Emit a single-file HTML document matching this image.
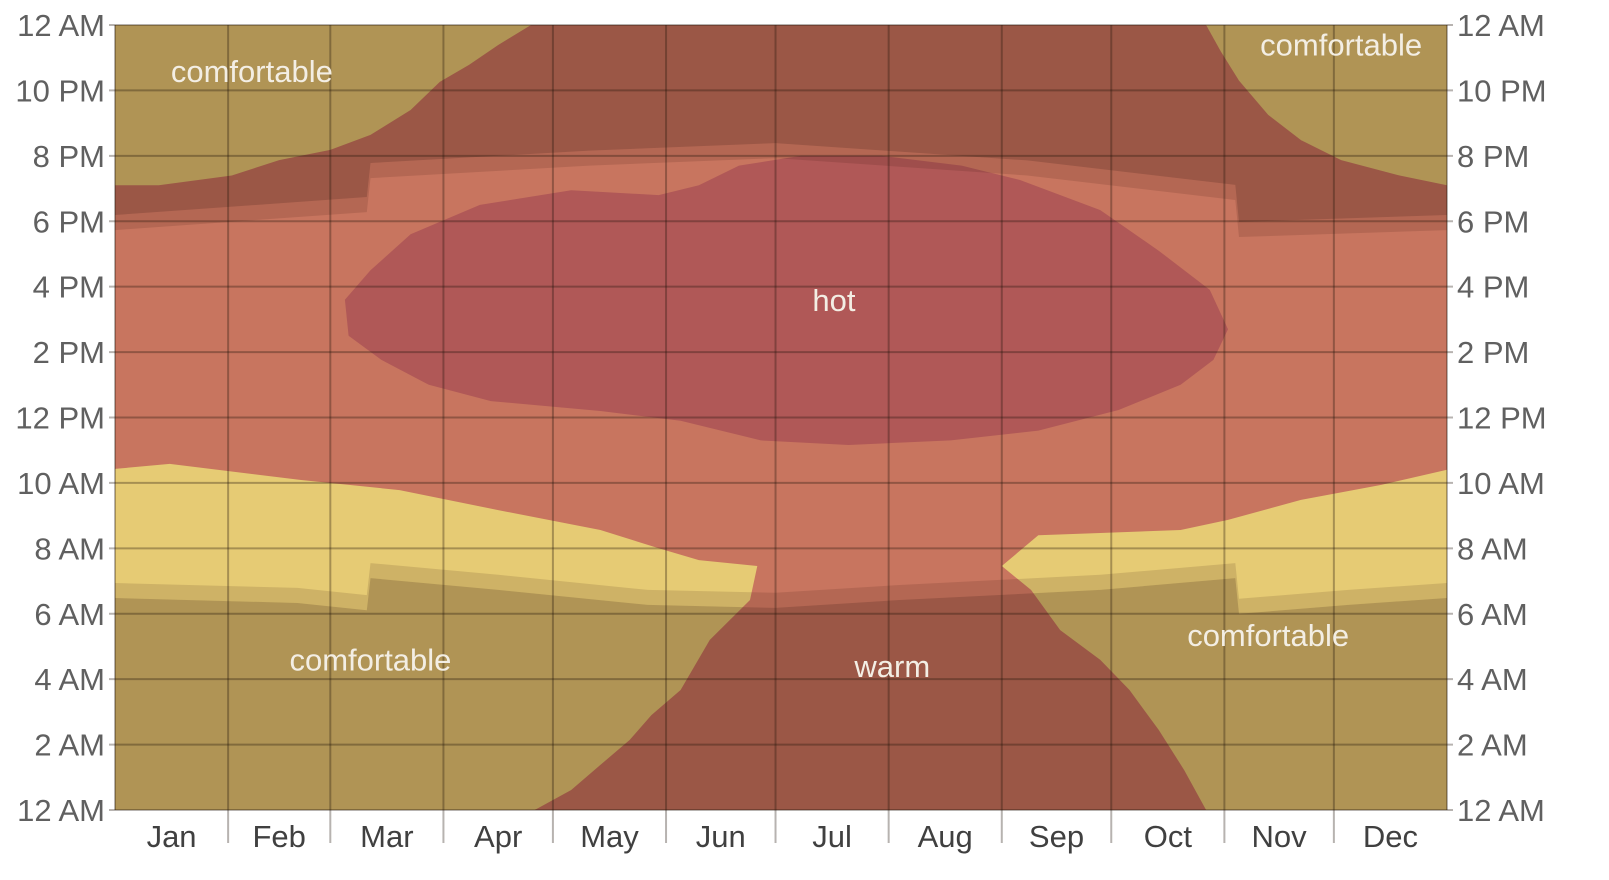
<!DOCTYPE html>
<html><head><meta charset="utf-8">
<style>
html,body{margin:0;padding:0;background:#fff;}
svg{display:block;font-family:"Liberation Sans",Arial,sans-serif;}
</style></head>
<body>
<svg id="chart" width="1609" height="880" viewBox="0 0 1609 880" xmlns="http://www.w3.org/2000/svg"></svg>
<script>
// ---- data (day-of-year, hour-of-day) ----
const monthNames = ["Jan","Feb","Mar","Apr","May","Jun","Jul","Aug","Sep","Oct","Nov","Dec"];
const monthStarts = [0,31,59,90,120,151,181,212,243,273,304,334,365];
const hourTicks = [0,2,4,6,8,10,12,14,16,18,20,22,24];
const hourLabels = ["12 AM","2 AM","4 AM","6 AM","8 AM","10 AM","12 PM","2 PM","4 PM","6 PM","8 PM","10 PM","12 AM"];
const comfortMorningLeft = [[0,0],[0,10.43],[15,10.58],[51,10.09],[78,9.78],[105,9.17],[133,8.56],[149,8.0],[160,7.64],[176,7.46],[174,6.42],[163,5.2],[155,3.67],[147,2.9],[141,2.14],[133,1.38],[125,0.61],[115,0]];
const comfortMorningRight = [[299,0],[293,1.22],[286,2.45],[278,3.67],[270,4.59],[259,5.5],[251,6.73],[243,7.46],[253,8.4],[270,8.47],[292,8.56],[305,8.87],[325,9.48],[347,9.94],[365,10.4],[365,0]];
const comfortEveningLeft = [[0,24],[0,19.1],[12,19.1],[32,19.4],[45,19.87],[59,20.18],[70,20.64],[81,21.4],[89,22.26],[97,22.78],[105,23.39],[114,24]];
const comfortEveningRight = [[299,24],[303,23.2],[308,22.3],[316,21.25],[325,20.48],[336,19.87],[352,19.4],[365,19.1],[365,24]];
const hotRegion = [[63,15.6],[70,16.5],[81,17.6],[100,18.5],[125,18.95],[149,18.8],[160,19.1],[171,19.7],[188,20.0],[210,20.0],[232,19.7],[248,19.26],[270,18.34],[286,17.1],[300,15.9],[305,14.7],[301,13.76],[292,13.0],[275,12.23],[253,11.6],[229,11.3],[201,11.16],[177,11.3],[155,11.9],[133,12.2],[103,12.5],[86,13.0],[73,13.76],[64,14.5]];
const sunriseDays = [0,50,69,70,105,146,181,215,270,307,308,338,365];
const nightEndHours = [6.48,6.33,6.11,7.09,6.73,6.27,6.18,6.42,6.73,7.09,6.0,6.27,6.48];
const sunsetDays = [0,69,70,130,181,250,307,308,365];
const dayEndHours = [17.73,18.28,19.32,19.7,19.93,19.4,18.65,17.52,17.73];
const twilightHours = 0.46;
const regionLabels = [["comfortable",37.5,22.6],["comfortable",336,23.4],["comfortable",70,4.6],["comfortable",316,5.35],["hot",197,15.6],["warm",213,4.4]];

// ---- axes ----
const X0=115,X1=1447,Y0=810,Y1=25;
const xS=d=>X0+d*(X1-X0)/365;
const yS=h=>Y0-h*(Y0-Y1)/24;
const NS="http://www.w3.org/2000/svg";
const svg=document.getElementById('chart');
function mk(tag,attrs){const e=document.createElementNS(NS,tag);for(const k in attrs)e.setAttribute(k,attrs[k]);svg.appendChild(e);return e;}
function poly(pts){return pts.map(p=>xS(p[0]).toFixed(1)+','+yS(p[1]).toFixed(1)).join(' ');}

let e;
e=mk('rect',{x:X0,y:Y1,width:X1-X0,height:Y0-Y1,fill:'#c8755f'});


[[comfortMorningLeft,'comfortable-morning-left'],[comfortMorningRight,'comfortable-morning-right'],[comfortEveningLeft,'comfortable-evening-left'],[comfortEveningRight,'comfortable-evening-right']].forEach(([p,n])=>{
  const el=mk('polygon',{points:poly(p),fill:'#e6cb74'});
  
  
});
e=mk('polygon',{points:poly(hotRegion),fill:'#b05857'});



// night overlays
const mNight=sunriseDays.map((d,i)=>[d,nightEndHours[i]]);
const mDay=sunriseDays.map((d,i)=>[d,nightEndHours[i]+twilightHours]);
const eDay=sunsetDays.map((d,i)=>[d,dayEndHours[i]]);
const eNight=sunsetDays.map((d,i)=>[d,dayEndHours[i]+twilightHours]);
const NIGHT='rgba(45,15,10,0.29)', TW='rgba(45,15,10,0.13)';
e=mk('polygon',{points:poly([[0,0],...mNight,[365,0]]),fill:NIGHT});


e=mk('polygon',{points:poly([...mNight,...mDay.slice().reverse()]),fill:TW});


e=mk('polygon',{points:poly([[0,24],...eNight,[365,24]]),fill:NIGHT});


e=mk('polygon',{points:poly([...eDay,...eNight.slice().reverse()]),fill:TW});



// grid
monthStarts.forEach(d=>{
  const l=mk('line',{x1:xS(d),x2:xS(d),y1:Y1,y2:(d===0||d===365)?Y0:843,stroke:'rgba(30,20,10,0.32)','stroke-width':2});
  
  
});
hourTicks.forEach((h,i)=>{
  const l=mk('line',{x1:X0-6,x2:X1+6,y1:yS(h),y2:yS(h),stroke:'rgba(30,20,10,0.32)','stroke-width':2});
  
  
  const t1=mk('text',{x:105,y:yS(h)+11,'text-anchor':'end','font-size':31,fill:'#606060'});
  t1.textContent=hourLabels[i];
  
  
  const t2=mk('text',{x:1457,y:yS(h)+11,'text-anchor':'start','font-size':31,fill:'#606060'});
  t2.textContent=hourLabels[i];
  
  
});
monthNames.forEach((m,i)=>{
  const t=mk('text',{x:xS((monthStarts[i]+monthStarts[i+1])/2),y:847,'text-anchor':'middle','font-size':31,fill:'#404040'});
  t.textContent=m;
  
  
});
regionLabels.forEach(r=>{
  const t=mk('text',{x:xS(r[1]),y:yS(r[2])+11,'text-anchor':'middle','font-size':31,fill:'#f3eee4'});
  t.textContent=r[0];
  
  
});
</script>
</body></html>
